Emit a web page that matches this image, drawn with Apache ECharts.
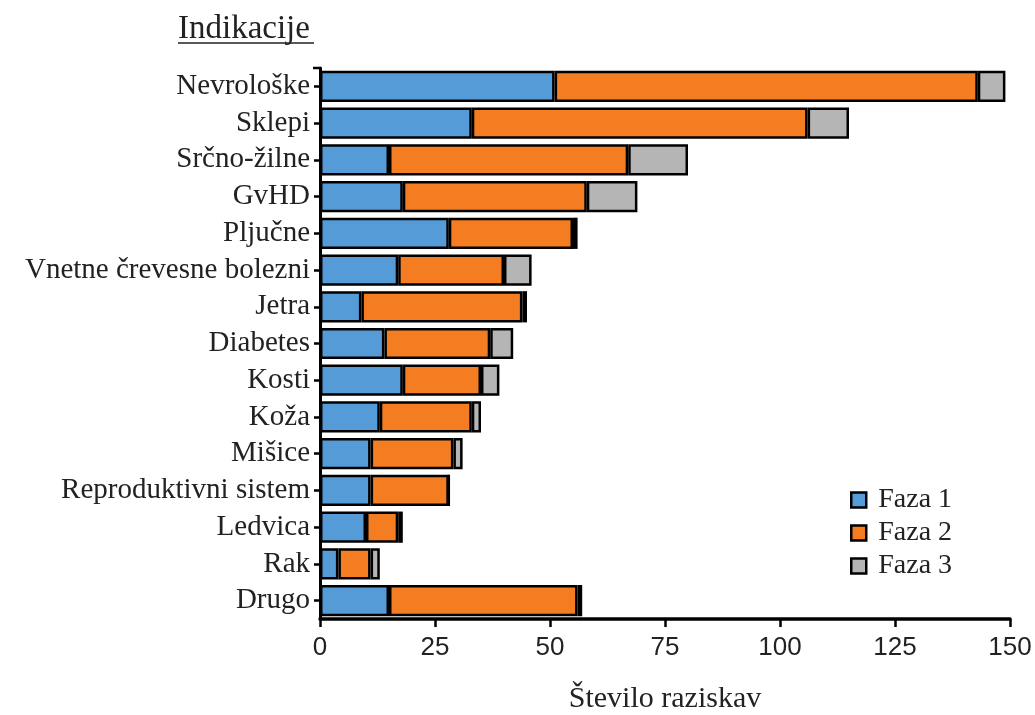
<!DOCTYPE html>
<html>
<head>
<meta charset="utf-8">
<script src="https://cdn.jsdelivr.net/npm/echarts@6/dist/echarts.min.js"></script>
<style>html,body{margin:0;padding:0;background:#fff}#c{width:1035px;height:715px}</style>
</head>
<body>
<div id="c"></div>
<script>
const categories = ["Nevrološke","Sklepi","Srčno-žilne","GvHD","Pljučne","Vnetne črevesne bolezni","Jetra","Diabetes","Kosti","Koža","Mišice","Reproduktivni sistem","Ledvica","Rak","Drugo"];
const faza1 = [51,33,15,18,28,17,9,14,18,13,11,11,10,4,15];
const faza2 = [92,73,52,40,27,23,35,23,17,20,18,17,7,7,41];
const faza3 = [6,9,13,11,1,6,1,5,4,2,2,0,1,2,1];
const xTicks = [0,25,50,75,100,125,150];

const serif = '"Liberation Serif","DejaVu Serif",serif';
const sans = '"Liberation Sans",Arial,sans-serif';
const colors = ['#559bd8','#f47d22','#b5b5b5'];
const names = ['Faza 1','Faza 2','Faza 3'];
const data = [faza1, faza2, faza3];

const chart = echarts.init(document.getElementById('c'), null, {renderer:'canvas'});
chart.setOption({
  animation:false,
  backgroundColor:'#fff',
  title:{
    text:'Indikacije', left:173, top:8, padding:5,
    textStyle:{fontFamily:serif, fontSize:33, fontWeight:'normal', color:'#222'}
  },
  graphic:[
    {type:'line', shape:{x1:178,y1:43,x2:314,y2:43}, style:{stroke:'#222', lineWidth:1.5}},
    {type:'line', shape:{x1:313,y1:68,x2:320,y2:68}, style:{stroke:'#000', lineWidth:2.5}}
  ],
  legend:{
    orient:'vertical', left:845, top:481, itemGap:5,
    itemWidth:15, itemHeight:15, icon:'rect',
    itemStyle:{borderColor:'#000', borderWidth:2.5},
    textStyle:{fontFamily:serif, fontSize:28, color:'#222', padding:[0,0,0,7]},
    data:names
  },
  grid:{left:320, right:25, top:68, bottom:96, containLabel:false, outerBoundsMode:'none'},
  xAxis:{
    type:'value', min:0, max:150, interval:25,
    name:'Število raziskav', nameLocation:'middle', nameGap:65,
    nameTextStyle:{fontFamily:serif, fontSize:30, color:'#222'},
    axisLine:{show:true, lineStyle:{color:'#000', width:3.5}},
    axisTick:{show:true, length:8, lineStyle:{color:'#000', width:2.5}},
    axisLabel:{fontFamily:sans, fontSize:26, color:'#222', margin:16,
      formatter:v => xTicks.includes(v) ? String(v) : ''},
    splitLine:{show:false}
  },
  yAxis:{
    type:'category', data:categories, inverse:true,
    axisLine:{show:true, lineStyle:{color:'#000', width:3}},
    axisTick:{show:true, alignWithLabel:true, interval:0, length:6, lineStyle:{color:'#000', width:2.5}},
    axisLabel:{fontFamily:serif, fontSize:29, color:'#222', margin:10, interval:0}
  },
  series: names.map((n,i)=>({
    name:n, type:'bar', stack:'total', data:data[i],
    barWidth:'85%',
    itemStyle:{color:colors[i], borderColor:'#000', borderWidth:2.5}
  }))
});
</script>
</body>
</html>
